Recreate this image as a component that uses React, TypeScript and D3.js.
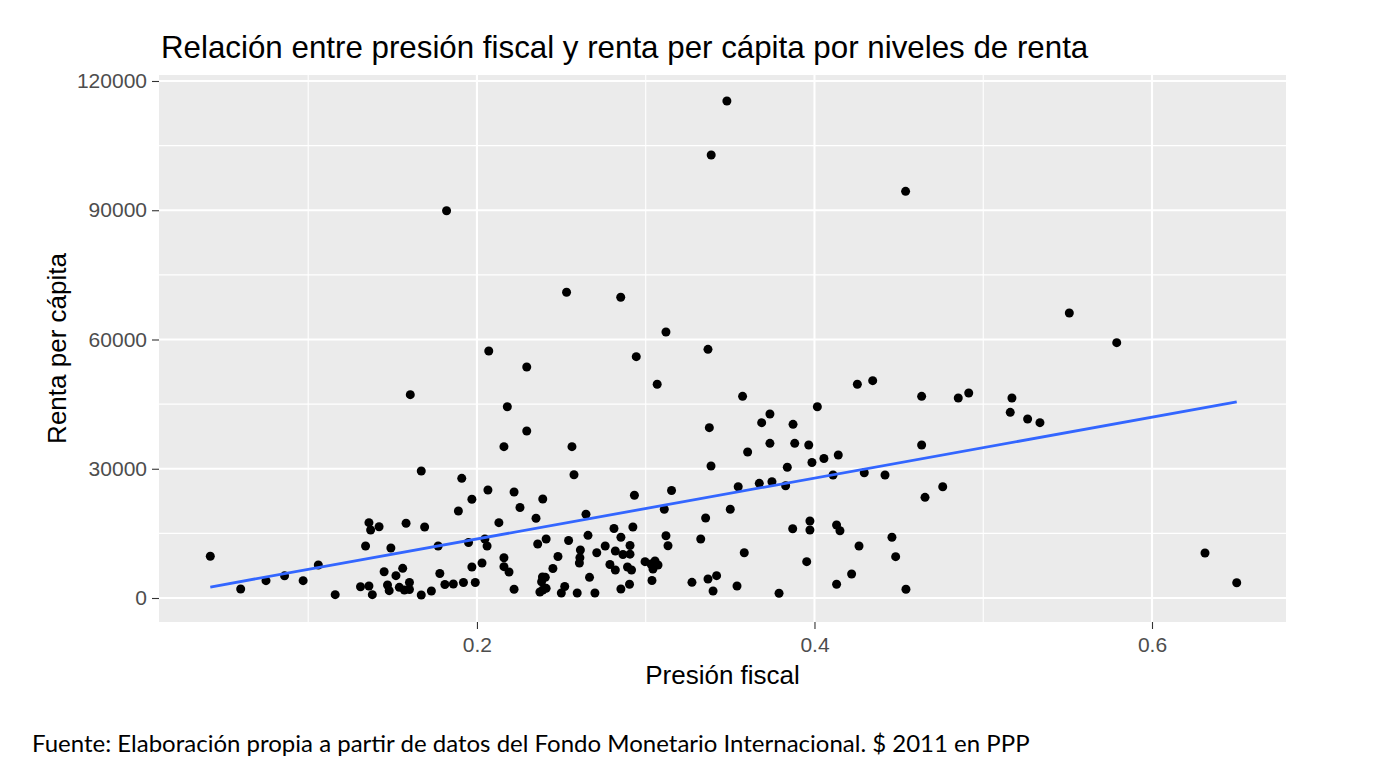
import { useEffect, useRef } from 'react'
import * as d3 from 'd3'

// presión fiscal (share of GDP) and renta per cápita ($ 2011 PPP), one entry per country
const presion = [
  0.042, 0.060, 0.075, 0.086, 0.097, 0.106, 0.116, 0.131, 0.136, 0.138,
  0.134, 0.136, 0.137, 0.142, 0.145, 0.147, 0.148, 0.149, 0.152, 0.156,
  0.154, 0.157, 0.160, 0.160, 0.158, 0.167, 0.167, 0.169, 0.173, 0.177,
  0.178, 0.181, 0.186, 0.192, 0.189, 0.191, 0.197, 0.195, 0.197, 0.199,
  0.203, 0.2065, 0.182, 0.207, 0.2295, 0.1605, 0.218, 0.2295, 0.216, 0.2047,
  0.206, 0.213, 0.216, 0.216, 0.219, 0.222, 0.222, 0.2255, 0.235, 0.236,
  0.239, 0.241, 0.2388, 0.2383, 0.239, 0.2373, 0.241, 0.2405, 0.245, 0.248,
  0.250, 0.252, 0.2543, 0.2575, 0.2594, 0.2613, 0.261, 0.2607, 0.2646, 0.2658,
  0.2667, 0.2699, 0.271, 0.276, 0.2788, 0.282, 0.2812, 0.282, 0.2853, 0.2865,
  0.2853, 0.2892, 0.2907, 0.2907, 0.2916, 0.2904, 0.2924, 0.2933, 0.2996, 0.3031,
  0.3055, 0.3073, 0.3043, 0.3037, 0.311, 0.3153, 0.312, 0.3132, 0.3274, 0.3355,
  0.3326, 0.3369, 0.342, 0.3399, 0.3387, 0.3501, 0.3548, 0.3584, 0.3541, 0.3673,
  0.3748, 0.3829, 0.3839, 0.379, 0.3871, 0.3973, 0.3973, 0.3954, 0.3985, 0.4056,
  0.411, 0.4295, 0.4418, 0.4655, 0.476, 0.4131, 0.4151, 0.4264, 0.4459, 0.4481,
  0.422, 0.4131, 0.4542, 0.6314, 0.6502, 0.2531, 0.2852, 0.312, 0.2944, 0.3369,
  0.3068, 0.3574, 0.2563, 0.3377, 0.3736, 0.3687, 0.3873, 0.4017, 0.3736, 0.3883,
  0.3966, 0.3604, 0.4141, 0.4254, 0.4345, 0.4635, 0.4635, 0.551, 0.5791, 0.4852,
  0.4914, 0.517, 0.516, 0.5263, 0.5336, 0.3481, 0.3388, 0.454
]

const renta = [
  9680, 2090, 4020, 5150, 4020, 7660, 770, 2620, 2790, 770,
  12070, 17480, 15780, 16550, 6100, 3020, 1700, 11600, 5180, 6890,
  2480, 1860, 3600, 1970, 17340, 29480, 700, 16480, 1620, 12070,
  5690, 3130, 3250, 3600, 20190, 27780, 22910, 12880, 7200, 3600,
  8120, 25070, 89890, 57330, 53620, 47190, 44400, 38760, 35120, 13690,
  12070, 17480, 9350, 7270, 6030, 24600, 2020, 21000, 18500, 12530,
  22980, 13690, 4870, 3780, 1860, 1390, 2250, 4800, 6850, 9630,
  1160, 2670, 13350, 28620, 1160, 11140, 9350, 8120, 19430, 14550,
  4800, 1160, 10510, 12070, 7780, 6500, 16130, 10910, 14090, 10100,
  2090, 7200, 12190, 10170, 6500, 3200, 16480, 23840, 8430, 7890,
  8590, 7660, 6730, 4060, 20590, 24950, 14460, 12140, 3640, 18570,
  13690, 4410, 5180, 1620, 30640, 20590, 25830, 10510, 2790, 26620,
  26990, 26060, 30340, 1090, 16080, 17870, 15780, 8430, 31450, 32380,
  28550, 29080, 28550, 23370, 25830, 16940, 15620, 12070, 14090, 9590,
  5570, 3180, 2020, 10440, 3550, 70960, 69800, 61740, 56010, 57720,
  49600, 46810, 35120, 39530, 42710, 40690, 40310, 44400, 35900, 35900,
  35510, 33890, 33190, 49600, 50440, 46810, 35510, 66150, 59260, 46420,
  47580, 46420, 43100, 41550, 40690, 115350, 102820, 94390
]

// linear trend (lm) evaluated at both ends of the presión range
const tendencia = [2550, 45500]

const xTicks = [0.2, 0.4, 0.6]
const xMinor = [0.1, 0.3, 0.5]
const yTicks = [0, 30000, 60000, 90000, 120000]
const yMinor = [15000, 45000, 75000, 105000]

const titulo = 'Relación entre presión fiscal y renta per cápita por niveles de renta'
const ejeX = 'Presión fiscal'
const ejeY = 'Renta per cápita'
const fuente = 'Fuente: Elaboración propia a partir de datos del Fondo Monetario Internacional. $ 2011 en PPP'

export default function App() {
  const canvas = useRef<HTMLDivElement>(null)

  useEffect(() => {
    drawChart()
  }, [])

  const drawChart = () => {
    const width = 1386
    const height = 780
    const panel = { left: 159, right: 1286, top: 75, bottom: 622 }
    const font = '"Liberation Sans", Arial, sans-serif'

    d3.select(canvas.current).selectAll('*').remove()

    const svg = d3.select(canvas.current)
      .append('svg')
      .attr('width', width)
      .attr('height', height)
      .style('position', 'absolute')
      .style('left', 0)
      .style('top', 0)
      .style('background', 'white')

    const xScale = d3.scaleLinear()
      .domain([0.0116, 0.6794])
      .range([panel.left, panel.right])

    const yScale = d3.scaleLinear()
      .domain([-5570, 121390])
      .range([panel.bottom, panel.top])

    // grey panel + white grid, ggplot style
    svg.append('rect')
      .attr('x', panel.left)
      .attr('y', panel.top)
      .attr('width', panel.right - panel.left)
      .attr('height', panel.bottom - panel.top)
      .attr('fill', '#EBEBEB')

    const grid = svg.append('g').attr('stroke', 'white')
    grid.selectAll('.minor-x').data(xMinor).join('line')
      .attr('x1', d => xScale(d)).attr('x2', d => xScale(d))
      .attr('y1', panel.top).attr('y2', panel.bottom)
      .attr('stroke-width', 1.1)
    grid.selectAll('.minor-y').data(yMinor).join('line')
      .attr('y1', d => yScale(d)).attr('y2', d => yScale(d))
      .attr('x1', panel.left).attr('x2', panel.right)
      .attr('stroke-width', 1.1)
    grid.selectAll('.major-x').data(xTicks).join('line')
      .attr('x1', d => xScale(d)).attr('x2', d => xScale(d))
      .attr('y1', panel.top).attr('y2', panel.bottom)
      .attr('stroke-width', 2.1)
    grid.selectAll('.major-y').data(yTicks).join('line')
      .attr('y1', d => yScale(d)).attr('y2', d => yScale(d))
      .attr('x1', panel.left).attr('x2', panel.right)
      .attr('stroke-width', 2.1)

    // points
    const puntos = presion.map((p, i) => [p, renta[i]])
    svg.append('g')
      .selectAll('circle')
      .data(puntos)
      .join('circle')
      .attr('cx', d => xScale(d[0]))
      .attr('cy', d => yScale(d[1]))
      .attr('r', 4.5)
      .attr('fill', 'black')

    // trend line across the observed presión range
    const fit = d3.extent(presion).map((x, i) => [x, tendencia[i]])

    svg.append('path')
      .datum(fit)
      .attr('d', d3.line().x(d => xScale(d[0])).y(d => yScale(d[1])))
      .attr('fill', 'none')
      .attr('stroke', '#3366FF')
      .attr('stroke-width', 2.8)

    // axes
    const yAxis = d3.axisLeft(yScale)
      .tickValues(yTicks)
      .tickSize(7)
      .tickPadding(5)
      .tickFormat(d3.format('d'))

    const yg = svg.append('g')
      .attr('transform', `translate(${panel.left}, 0)`)
      .call(yAxis)
    yg.select('.domain').remove()

    const xAxis = d3.axisBottom(xScale)
      .tickValues(xTicks)
      .tickSize(7)
      .tickPadding(8)
      .tickFormat(d3.format('.1f'))

    const xg = svg.append('g')
      .attr('transform', `translate(0, ${panel.bottom})`)
      .call(xAxis)
    xg.select('.domain').remove()

    svg.selectAll('.tick line')
      .attr('stroke', '#333333')
      .attr('stroke-width', 1.1)
    svg.selectAll('.tick text')
      .attr('fill', '#4D4D4D')
      .style('font-family', font)
      .style('font-size', '21px')

    // titles
    svg.append('text')
      .attr('x', 161)
      .attr('y', 58)
      .style('font-family', font)
      .style('font-size', '31.3px')
      .attr('fill', 'black')
      .text(titulo)

    svg.append('text')
      .attr('x', (panel.left + panel.right) / 2)
      .attr('y', 684)
      .attr('text-anchor', 'middle')
      .style('font-family', font)
      .style('font-size', '26px')
      .attr('fill', 'black')
      .text(ejeX)

    svg.append('text')
      .attr('transform', `translate(66, ${(panel.top + panel.bottom) / 2}) rotate(-90)`)
      .attr('text-anchor', 'middle')
      .style('font-family', font)
      .style('font-size', '26px')
      .attr('fill', 'black')
      .text(ejeY)

    svg.append('text')
      .attr('x', 32)
      .attr('y', 752)
      .style('font-family', 'Lato, "Open Sans", sans-serif')
      .style('font-size', '24px')
      .attr('fill', 'black')
      .text(fuente)
  }

  return (
    <div className="chart">
      <div className="canvas" ref={canvas}></div>
    </div>
  )
}
